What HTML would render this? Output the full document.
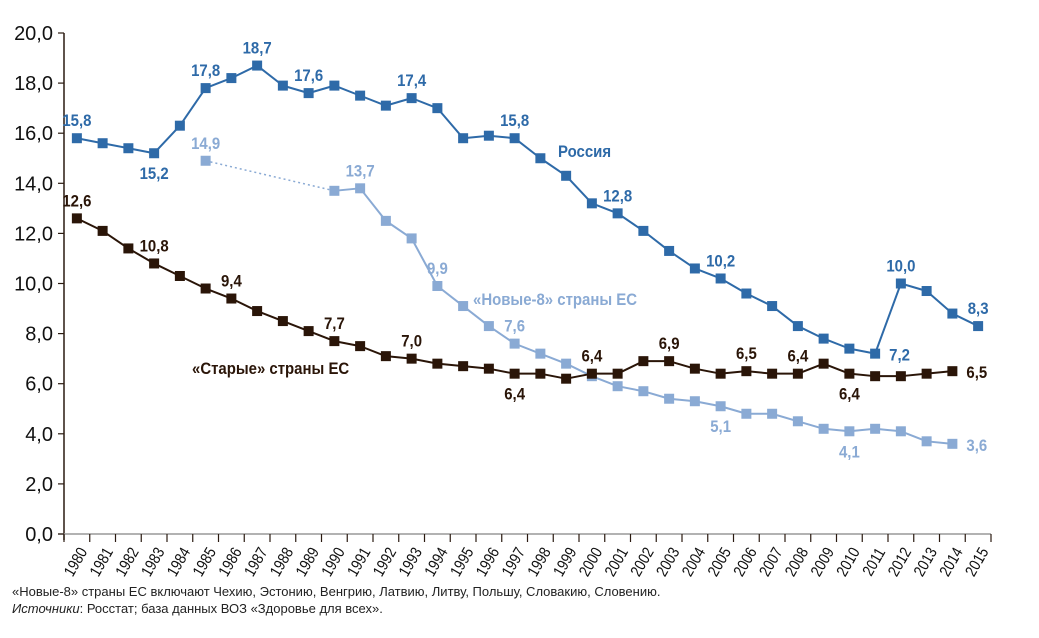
<!DOCTYPE html>
<html><head><meta charset="utf-8">
<style>
body{margin:0;background:#fff;width:1039px;height:633px;overflow:hidden;font-family:"Liberation Sans Narrow","Liberation Sans",sans-serif;}
svg text{font-family:"Liberation Sans Narrow","Liberation Sans",sans-serif;}
</style></head>
<body>
<svg id="chart" width="1039" height="633" xmlns="http://www.w3.org/2000/svg">
<text x="12" y="596" font-size="13" fill="#222">«Новые-8» страны ЕС включают Чехию, Эстонию, Венгрию, Латвию, Литву, Польшу, Словакию, Словению.</text>
<text x="12" y="613" font-size="13" fill="#222"><tspan font-style="italic">Источники</tspan>: Росстат; база данных ВОЗ «Здоровье для всех».</text>
</svg>
<script>
const years=[1980,1981,1982,1983,1984,1985,1986,1987,1988,1989,1990,1991,1992,1993,1994,1995,1996,1997,1998,1999,2000,2001,2002,2003,2004,2005,2006,2007,2008,2009,2010,2011,2012,2013,2014,2015];
const russia=[15.8,15.6,15.4,15.2,16.3,17.8,18.2,18.7,17.9,17.6,17.9,17.5,17.1,17.4,17.0,15.8,15.9,15.8,15.0,14.3,13.2,12.8,12.1,11.3,10.6,10.2,9.6,9.1,8.3,7.8,7.4,7.2,10.0,9.7,8.8,8.3];
const new8=[null,null,null,null,null,14.9,null,null,null,null,13.7,13.8,12.5,11.8,9.9,9.1,8.3,7.6,7.2,6.8,6.3,5.9,5.7,5.4,5.3,5.1,4.8,4.8,4.5,4.2,4.1,4.2,4.1,3.7,3.6,null];
const oldEU=[12.6,12.1,11.4,10.8,10.3,9.8,9.4,8.9,8.5,8.1,7.7,7.5,7.1,7.0,6.8,6.7,6.6,6.4,6.4,6.2,6.4,6.4,6.9,6.9,6.6,6.4,6.5,6.4,6.4,6.8,6.4,6.3,6.3,6.4,6.5,null];
const yTicks=[0,2,4,6,8,10,12,14,16,18,20];
const rusLabels=[[1980,"15,8",-1],[1983,"15,2",1],[1985,"17,8",-1],[1987,"18,7",-1],[1989,"17,6",-1],[1993,"17,4",-1],[1997,"15,8",-1],[2001,"12,8",-1],[2005,"10,2",-1],[2011,"7,2",0],[2012,"10,0",-1],[2015,"8,3",-1]];
const newLabels=[[1985,"14,9",-1],[1991,"13,7",-1],[1994,"9,9",-1],[1997,"7,6",-1],[2005,"5,1",1],[2010,"4,1",1],[2014,"3,6",0]];
const oldLabels=[[1980,"12,6",-1],[1983,"10,8",-1],[1986,"9,4",-1],[1990,"7,7",-1],[1993,"7,0",-1],[1997,"6,4",1],[2000,"6,4",-1],[2003,"6,9",-1],[2006,"6,5",-1],[2008,"6,4",-1],[2010,"6,4",1],[2014,"6,5",0]];
const NS="http://www.w3.org/2000/svg";
const svg=document.getElementById('chart');
const x0=64,step=25.75,yb=534,yt=33,SX=0.88;
const X=i=>x0+step*(i+0.5);
const Y=v=>yb-(v/20)*(yb-yt);
function mk(tag,attrs,parent){const e=document.createElementNS(NS,tag);for(const k in attrs)e.setAttribute(k,attrs[k]);(parent||svg).appendChild(e);return e;}
function txt(x,y,attrs){return mk('text',Object.assign({x:0,y:0,transform:`translate(${x} ${y}) scale(${SX} 1)`},attrs));}
const ax=mk('line',{x1:x0,y1:yt,x2:x0,y2:yb+6,stroke:'#2a1a10','stroke-width':1.5});


const bx=mk('line',{x1:x0-6,y1:yb,x2:x0+step*36,y2:yb,stroke:'#999','stroke-width':1.5});


yTicks.forEach(v=>{
 const t=mk('line',{x1:x0-6,y1:Y(v),x2:x0,y2:Y(v),stroke:'#2a1a10','stroke-width':1.2});
 
 
 const l=mk('text',{x:x0-11,y:Y(v)+7,'font-size':20,'text-anchor':'end',fill:'#111'});
 l.textContent=v.toFixed(1).replace('.',',');
 
 
});
for(let i=0;i<=36;i++){
 const t=mk('line',{x1:x0+step*i,y1:yb,x2:x0+step*i,y2:yb+8,stroke:'#2a1a10','stroke-width':1.2});
 
 
}
years.forEach((yr,i)=>{
 const cx=X(i)-1,cy=yb+28;
 const l=mk('text',{x:0,y:5,'font-size':16,'text-anchor':'middle',fill:'#111',transform:`translate(${cx} ${cy}) rotate(-60) scale(0.85 1)`});
 l.textContent=yr;
 
 
});
function series(data,color,name){
 const g=mk('g',{});
 
 
 let prev=null;
 data.forEach((v,i)=>{
  if(v==null)return;
  if(prev!=null){
   const ln=mk('line',{x1:X(prev),y1:Y(data[prev]),x2:X(i),y2:Y(v),stroke:color,'stroke-width':i-prev>1?1.5:2,'stroke-dasharray':i-prev>1?'2,3':'none'},g);
   
   
  }
  prev=i;
 });
 data.forEach((v,i)=>{
  if(v==null)return;
  const r=mk('rect',{x:X(i)-5,y:Y(v)-5,width:10,height:10,fill:color},g);
  
  
 });
}
function labels(arr,data,color,name){
 arr.forEach(([yr,t0,pos])=>{
  const i=years.indexOf(yr);const v=data[i];
  let x=X(i),y=Y(v)-12,anchor='middle';
  if(pos===1)y=Y(v)+26;
  if(pos===0){x=X(i)+14;y=Y(v)+7;anchor='start';}
  const t=txt(x,y,{'font-size':17,'font-weight':'bold','text-anchor':anchor,fill:color});
  t.textContent=t0;
  
  
 });
}
const cR='#2e6aa8',cN='#8aaad4',cO='#2a1508';
series(new8,cN,'new8');
series(oldEU,cO,'old-eu');
series(russia,cR,'russia');
labels(rusLabels,russia,cR,'russia');
labels(newLabels,new8,cN,'new8');
labels(oldLabels,oldEU,cO,'old-eu');
[['Россия',558,157,cR,'russia-name'],['«Новые-8» страны ЕС',473,305,cN,'new8-name'],['«Старые» страны ЕС',192,374,cO,'old-eu-name']].forEach(([t,x,y,c,n])=>{
 const e=txt(x,y,{'font-size':17,'font-weight':'bold',fill:c});
 e.textContent=t;
 
 
});
</script>
</body></html>
